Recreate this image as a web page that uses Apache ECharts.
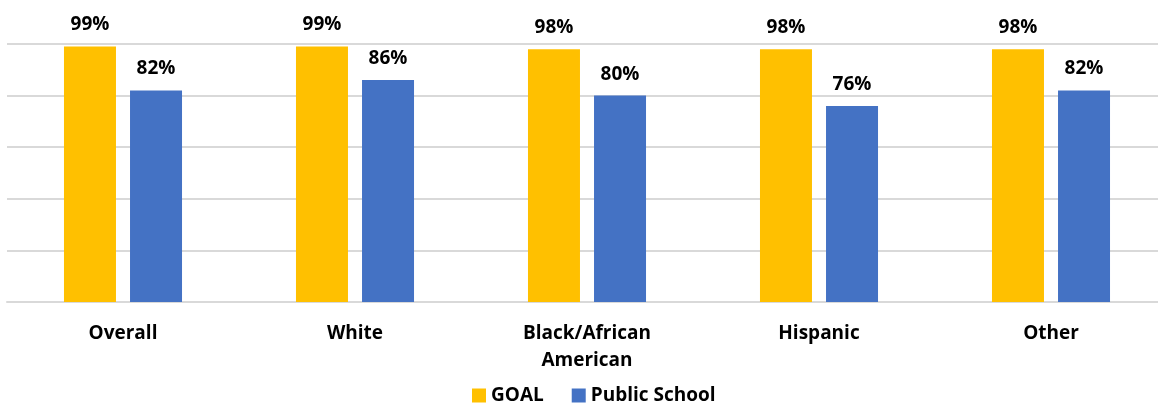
<!DOCTYPE html>
<html>
<head>
<meta charset="utf-8">
<script src="https://cdn.jsdelivr.net/npm/echarts@6/dist/echarts.min.js"></script>
<style>
  html, body { margin: 0; padding: 0; background: #fff; overflow: hidden; }
  #chart { width: 1167px; height: 406px; }
</style>
</head>
<body>
<div id="chart"></div>
<script>
const categories = ["Overall", "White", "Black/African\nAmerican", "Hispanic", "Other"];
const goalValues = [99, 99, 98, 98, 98];
const publicValues = [82, 86, 80, 76, 82];
const seriesNames = ["GOAL", "Public School"];

const chart = echarts.init(document.getElementById("chart"));
const font = "'Open Sans', sans-serif";

const labelStyle = {
    show: true,
    position: "top",
    distance: 12,
    formatter: "{c}%",
    color: "#000",
    fontFamily: font,
    fontWeight: "bold",
    fontSize: 19,
};

chart.setOption({
    animation: false,
    grid: {
        left: 7,
        right: 0,
        top: 44,
        height: 258,
        containLabel: false,
    },
    legend: {
        data: seriesNames,
        top: 381,
        left: 467,
        itemWidth: 14,
        itemHeight: 14,
        itemGap: 28,
        icon: "rect",
        textStyle: {
            color: "#000",
            fontFamily: font,
            fontWeight: "bold",
            fontSize: 19,
        },
    },
    xAxis: {
        type: "category",
        data: categories,
        axisLine: { lineStyle: { color: "#d9d9d9", width: 2 } },
        axisTick: { show: false },
        axisLabel: {
            margin: 18,
            color: "#000",
            fontFamily: font,
            fontWeight: "bold",
            fontSize: 19,
            lineHeight: 27,
            interval: 0,
        },
    },
    yAxis: {
        type: "value",
        min: 0,
        max: 100,
        interval: 20,
        axisLabel: { show: false },
        axisLine: { show: false },
        axisTick: { show: false },
        splitLine: { lineStyle: { color: "#d9d9d9", width: 2 } },
    },
    series: [
        {
            name: seriesNames[0],
            type: "bar",
            data: goalValues,
            barWidth: 52,
            barGap: "27%",
            itemStyle: { color: "#FFC000" },
            label: labelStyle,
        },
        {
            name: seriesNames[1],
            type: "bar",
            data: publicValues,
            barWidth: 52,
            itemStyle: { color: "#4472C4" },
            label: labelStyle,
        },
    ],
});
</script>
</body>
</html>
